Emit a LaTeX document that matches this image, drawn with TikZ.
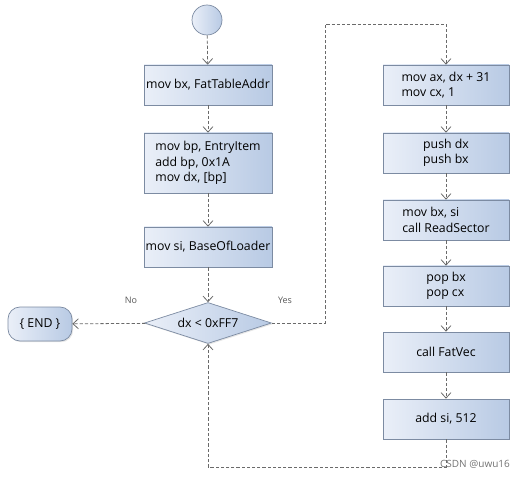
\documentclass[tikz,border=0pt]{standalone}
\usepackage{fontspec}
\setmainfont{Open Sans}
\usetikzlibrary{arrows.meta}
\usetikzlibrary{shapes.geometric}
\usetikzlibrary{shadows}

\definecolor{boxleft}{HTML}{EAEFF8}
\definecolor{boxright}{HTML}{B8CAE4}
\definecolor{boxline}{HTML}{7C8BA2}
\definecolor{flowline}{HTML}{6A6A6A}

\tikzset{
    stepbox/.style={draw=boxline,line width=0.7pt,left color=boxleft,right color=boxright,
        drop shadow={shadow xshift=1.2pt,shadow yshift=-1.2pt,opacity=0.2},
        minimum height=40pt,inner sep=0pt,align=left,font=\fontsize{12.3}{15.5}\selectfont},
    flow/.style={draw=flowline,line width=0.8pt,dash pattern=on 3.2pt off 2pt,
        -{Straight Barb[length=5.5pt,width=10pt,line width=0.8pt]}},
    lbl/.style={text=black!65,font=\fontsize{9}{11}\selectfont}
}

\begin{document}
\begin{tikzpicture}[x=1pt,y=-1pt]
    \useasboundingbox (0,0) rectangle (527,478);
    % left column
    \node[circle,draw=boxline,line width=0.7pt,left color=boxleft,right color=boxright,
        minimum size=30pt,inner sep=0pt] (start) at (207,20) {};
    \node[stepbox,minimum width=128pt] (fattab) at (208,85) {mov bx, FatTableAddr};
    \node[stepbox,minimum width=128pt,minimum height=60pt] (entry) at (208,163)
        {mov bp, EntryItem\\add bp, 0x1A\\mov dx, [bp]};
    \node[stepbox,minimum width=128pt] (loader) at (208,247) {mov si, BaseOfLoader};
    \node[stepbox,shape=diamond,aspect=3.1,minimum width=127pt,minimum height=41pt] (cond) at (208,323)
        {dx < 0xFF7};
    \node[stepbox,rounded corners=12pt,minimum width=64pt,minimum height=34pt] (finish) at (40,324)
        {\{ END \}};
    % right column
    \node[stepbox,minimum width=126pt] (calc) at (446,85) {mov ax, dx + 31\\mov cx, 1};
    \node[stepbox,minimum width=126pt] (pushreg) at (446,153) {push dx\\push bx};
    \node[stepbox,minimum width=126pt] (readsec) at (446,220) {mov bx, si\\call ReadSector};
    \node[stepbox,minimum width=126pt] (popreg) at (446,286) {pop bx\\pop cx};
    \node[stepbox,minimum width=126pt] (fatvec) at (446,352) {call FatVec};
    \node[stepbox,minimum width=126pt] (nextsi) at (446,419) {add si, 512};

    \coordinate (topturn) at (325,24);
    \coordinate (botturn) at (208,467);

    \draw[flow] (start) -- (fattab);
    \draw[flow] (fattab) -- (entry);
    \draw[flow] (entry) -- (loader);
    \draw[flow] (loader) -- (cond);
    \draw[flow] (cond) -- (finish);
    \draw[flow] (cond.east) -| (topturn) -| (calc.north);
    \draw[flow] (calc) -- (pushreg);
    \draw[flow] (pushreg) -- (readsec);
    \draw[flow] (readsec) -- (popreg);
    \draw[flow] (popreg) -- (fatvec);
    \draw[flow] (fatvec) -- (nextsi);
    \draw[flow] (nextsi.south) |- (botturn) -- (cond.south);

    \node[lbl] (nolbl) at (131,300) {No};
    \node[lbl] (yeslbl) at (285,300) {Yes};
    \node[lbl,text=black!55,font=\fontsize{10}{12}\selectfont] (mark) at (475,464) {CSDN @uwu16};
\end{tikzpicture}
\end{document}
